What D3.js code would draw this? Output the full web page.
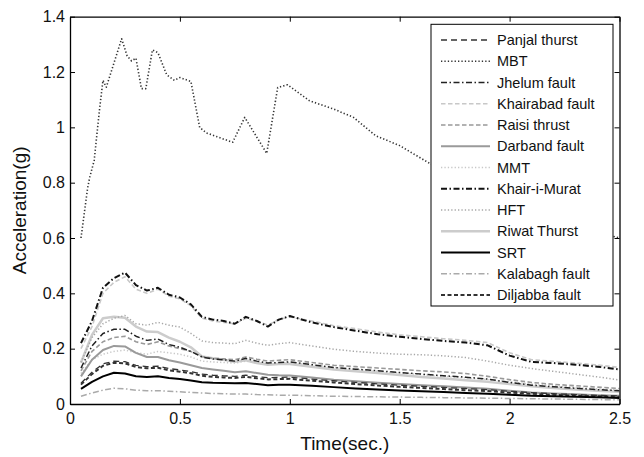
<!DOCTYPE html>
<html><head><meta charset="utf-8">
<script src="https://cdn.jsdelivr.net/npm/d3@7"></script>
<style>body{margin:0;background:#fff;}svg{display:block;}text{font-family:Arial,"Liberation Sans",sans-serif;}</style>
</head><body>
<script>
// ---------- data ----------
const time = [0.05,0.1,0.15,0.2,0.25,0.3,0.35,0.4,0.45,0.5,0.55,0.6,0.65,0.7,0.75,0.8,0.85,0.9,0.95,1.0,
              1.1,1.2,1.3,1.4,1.5,1.6,1.7,1.8,1.9,2.0,2.1,2.2,2.3,2.4,2.5];
const timeMBT = [0.05,0.08,0.09,0.11,0.135,0.15,0.165,0.235,0.26,0.28,0.3,0.325,0.345,0.375,0.4,0.44,0.475,0.5,0.55,0.59,0.62,
                 0.74,0.795,0.895,0.945,0.99,1.09,1.2,1.29,1.39,1.5,1.64,1.8,2.0,2.2,2.5];
const mbt = [0.60,0.78,0.82,0.88,1.07,1.17,1.145,1.32,1.258,1.24,1.25,1.14,1.14,1.28,1.27,1.19,1.17,1.18,1.166,1.0,0.98,
             0.946,1.036,0.906,1.144,1.154,1.096,1.066,1.036,0.97,0.934,0.868,0.80,0.72,0.66,0.60];
const panjal = [0.075,0.115,0.145,0.155,0.153,0.14,0.135,0.137,0.128,0.123,0.117,0.108,0.104,0.102,0.1,0.104,0.099,0.095,0.096,0.097,
                0.09,0.084,0.078,0.073,0.068,0.064,0.06,0.056,0.052,0.046,0.041,0.037,0.034,0.031,0.029];
const jhelum = [0.13,0.21,0.255,0.27,0.27,0.245,0.23,0.235,0.215,0.205,0.19,0.17,0.163,0.16,0.155,0.165,0.155,0.148,0.15,0.152,
                0.142,0.132,0.126,0.12,0.114,0.108,0.102,0.097,0.09,0.078,0.068,0.062,0.057,0.052,0.048];
const khairabad = [0.20,0.28,0.40,0.44,0.46,0.415,0.40,0.415,0.39,0.38,0.355,0.31,0.30,0.295,0.29,0.31,0.30,0.285,0.305,0.315,
                   0.30,0.283,0.272,0.26,0.25,0.243,0.236,0.23,0.222,0.185,0.16,0.154,0.148,0.141,0.132];
const raisi = [0.12,0.19,0.225,0.24,0.245,0.225,0.215,0.225,0.21,0.2,0.19,0.172,0.165,0.163,0.16,0.17,0.162,0.155,0.158,0.16,
               0.15,0.14,0.135,0.13,0.125,0.12,0.116,0.11,0.1,0.088,0.078,0.071,0.066,0.061,0.056];
const darband = [0.10,0.16,0.195,0.21,0.208,0.185,0.17,0.17,0.158,0.15,0.14,0.13,0.125,0.12,0.115,0.118,0.112,0.106,0.104,0.103,
                 0.096,0.088,0.082,0.077,0.072,0.068,0.064,0.06,0.055,0.048,0.042,0.038,0.035,0.032,0.03];
const mmt = [0.11,0.16,0.18,0.19,0.195,0.185,0.18,0.19,0.185,0.18,0.17,0.155,0.152,0.15,0.148,0.155,0.15,0.145,0.148,0.15,
             0.142,0.132,0.125,0.118,0.112,0.106,0.1,0.095,0.088,0.08,0.072,0.066,0.06,0.055,0.05];
const khairMurat = [0.22,0.30,0.42,0.455,0.475,0.43,0.41,0.42,0.395,0.385,0.36,0.315,0.305,0.30,0.29,0.315,0.30,0.28,0.305,0.318,
                    0.295,0.278,0.265,0.252,0.243,0.235,0.228,0.222,0.212,0.175,0.152,0.148,0.142,0.135,0.125];
const hft = [0.15,0.24,0.29,0.31,0.32,0.29,0.285,0.295,0.285,0.278,0.255,0.228,0.222,0.22,0.218,0.23,0.22,0.212,0.218,0.222,
             0.21,0.198,0.19,0.184,0.18,0.178,0.174,0.168,0.155,0.14,0.128,0.118,0.108,0.098,0.087];
const riwat = [0.15,0.25,0.31,0.315,0.312,0.28,0.262,0.26,0.24,0.225,0.205,0.172,0.165,0.16,0.153,0.158,0.148,0.142,0.145,0.145,
               0.135,0.125,0.118,0.112,0.105,0.098,0.092,0.086,0.08,0.072,0.064,0.058,0.052,0.048,0.044];
const srt = [0.055,0.08,0.1,0.113,0.11,0.1,0.098,0.1,0.094,0.09,0.085,0.079,0.077,0.076,0.075,0.076,0.072,0.068,0.07,0.07,
             0.066,0.061,0.056,0.052,0.049,0.046,0.043,0.04,0.037,0.033,0.03,0.028,0.026,0.024,0.022];
const kalabagh = [0.028,0.04,0.05,0.057,0.055,0.05,0.048,0.048,0.046,0.044,0.042,0.04,0.038,0.037,0.036,0.036,0.034,0.033,0.032,0.032,
                  0.03,0.028,0.027,0.026,0.025,0.024,0.023,0.022,0.021,0.02,0.019,0.018,0.017,0.016,0.015];
const diljabba = [0.07,0.108,0.138,0.149,0.147,0.134,0.129,0.131,0.122,0.117,0.111,0.102,0.098,0.096,0.094,0.098,0.093,0.089,0.09,0.091,
                  0.084,0.078,0.072,0.067,0.062,0.058,0.054,0.05,0.047,0.041,0.037,0.033,0.03,0.028,0.026];

const seriesNames = ["Panjal thurst","MBT","Jhelum fault","Khairabad fault","Raisi thrust","Darband fault","MMT",
                     "Khair-i-Murat","HFT","Riwat Thurst","SRT","Kalabagh fault","Diljabba fault"];
const xTicks = [0,0.5,1,1.5,2,2.5];
const yTicks = [0,0.2,0.4,0.6,0.8,1,1.2,1.4];

// ---------- styles ----------
const DOT = "1.3,2.1", DASHDOT = "6,2.5,1.5,2.5";
const styles = {
  "Panjal thurst":  {c:"#333", w:1.3, d:"6,4"},
  "MBT":            {c:"#333", w:1.6, d:DOT},
  "Jhelum fault":   {c:"#222", w:1.5, d:DASHDOT},
  "Khairabad fault":{c:"#c8c8c8", w:1.6, d:"4.5,2.5"},
  "Raisi thrust":   {c:"#999", w:1.6, d:"4.5,2.5"},
  "Darband fault":  {c:"#9a9a9a", w:2, d:null},
  "MMT":            {c:"#c8c8c8", w:1.5, d:DOT},
  "Khair-i-Murat":  {c:"#111", w:2, d:DASHDOT},
  "HFT":            {c:"#a8a8a8", w:1.5, d:DOT},
  "Riwat Thurst":   {c:"#cccccc", w:2.5, d:null},
  "SRT":            {c:"#000", w:2, d:null},
  "Kalabagh fault": {c:"#aaa", w:1.5, d:DASHDOT},
  "Diljabba fault": {c:"#333", w:2, d:"4,2.5"}
};
const dataMap = {
  "Panjal thurst":[time,panjal],"MBT":[timeMBT,mbt],"Jhelum fault":[time,jhelum],"Khairabad fault":[time,khairabad],
  "Raisi thrust":[time,raisi],"Darband fault":[time,darband],"MMT":[time,mmt],"Khair-i-Murat":[time,khairMurat],
  "HFT":[time,hft],"Riwat Thurst":[time,riwat],"SRT":[time,srt],"Kalabagh fault":[time,kalabagh],"Diljabba fault":[time,diljabba]
};
// draw order (back to front)
const drawOrder = ["Riwat Thurst","Khairabad fault","MMT","HFT","Darband fault","Raisi thrust","Kalabagh fault",
                   "Panjal thurst","Diljabba fault","SRT","Jhelum fault","Khair-i-Murat","MBT"];

// ---------- layout ----------
const W=644,H=457, m={l:70,r:24.5,t:16.7,b:53};
const svg=d3.select("body").append("svg").attr("width",W).attr("height",H);
const x=d3.scaleLinear().domain([0,2.5]).range([m.l,W-m.r]);
const y=d3.scaleLinear().domain([0,1.4]).range([H-m.b,m.t]);

svg.append("defs").append("clipPath").attr("id","clip").append("rect")
  .attr("x",m.l).attr("y",m.t).attr("width",W-m.l-m.r).attr("height",H-m.t-m.b);

const line=d3.line().x(d=>x(d[0])).y(d=>y(d[1]));
const gl=svg.append("g").attr("clip-path","url(#clip)");
drawOrder.forEach(n=>{
  const [t,v]=dataMap[n], s=styles[n];
  gl.append("path").datum(t.map((tt,i)=>[tt,v[i]])).attr("d",line)
    .attr("fill","none").attr("stroke",s.c).attr("stroke-width",s.w)
    .attr("stroke-dasharray",s.d).attr("stroke-linejoin","round");
});

// axes (box with inward ticks)
const fmt=d=>String(d);
const axB=svg.append("g").attr("transform",`translate(0,${H-m.b})`)
  .call(d3.axisBottom(x).tickValues(xTicks).tickFormat(fmt).tickSizeInner(-5).tickSizeOuter(0).tickPadding(9));
const axT=svg.append("g").attr("transform",`translate(0,${m.t})`)
  .call(d3.axisTop(x).tickValues(xTicks).tickFormat("").tickSizeInner(-5).tickSizeOuter(0));
const axL=svg.append("g").attr("transform",`translate(${m.l},0)`)
  .call(d3.axisLeft(y).tickValues(yTicks).tickFormat(fmt).tickSizeInner(-5).tickSizeOuter(0).tickPadding(5));
const axR=svg.append("g").attr("transform",`translate(${W-m.r},0)`)
  .call(d3.axisRight(y).tickValues(yTicks).tickFormat("").tickSizeInner(-5).tickSizeOuter(0));
[axB,axT,axL,axR].forEach(a=>{
  a.select(".domain").attr("stroke","#000").attr("stroke-width",1.3);
  a.selectAll(".tick line").attr("stroke","#000").attr("stroke-width",1);
  a.selectAll("text").attr("font-size",16).attr("fill","#111").attr("font-family","Arial, 'Liberation Sans', sans-serif");
});

// axis titles
svg.append("text").attr("x",(m.l+W-m.r)/2).attr("y",450).attr("text-anchor","middle")
  .attr("font-size",19).attr("fill","#111").text("Time(sec.)");
svg.append("text").attr("transform",`translate(26,${(m.t+H-m.b)/2}) rotate(-90)`).attr("text-anchor","middle")
  .attr("font-size",19).attr("fill","#111").text("Acceleration(g)");

// legend
const lg=svg.append("g");
lg.append("rect").attr("x",431).attr("y",24.3).attr("width",182).attr("height",281.7)
  .attr("fill","#fff").attr("stroke","#000").attr("stroke-width",1);
seriesNames.forEach((n,i)=>{
  const yy=40+i*21.25, s=styles[n];
  lg.append("line").attr("x1",441).attr("x2",490).attr("y1",yy).attr("y2",yy)
    .attr("stroke",s.c).attr("stroke-width",s.w).attr("stroke-dasharray",s.d);
  lg.append("text").attr("x",497).attr("y",yy).attr("dy","0.36em").attr("font-size",14.5).attr("fill","#111").text(n);
});
</script>
</body></html>
